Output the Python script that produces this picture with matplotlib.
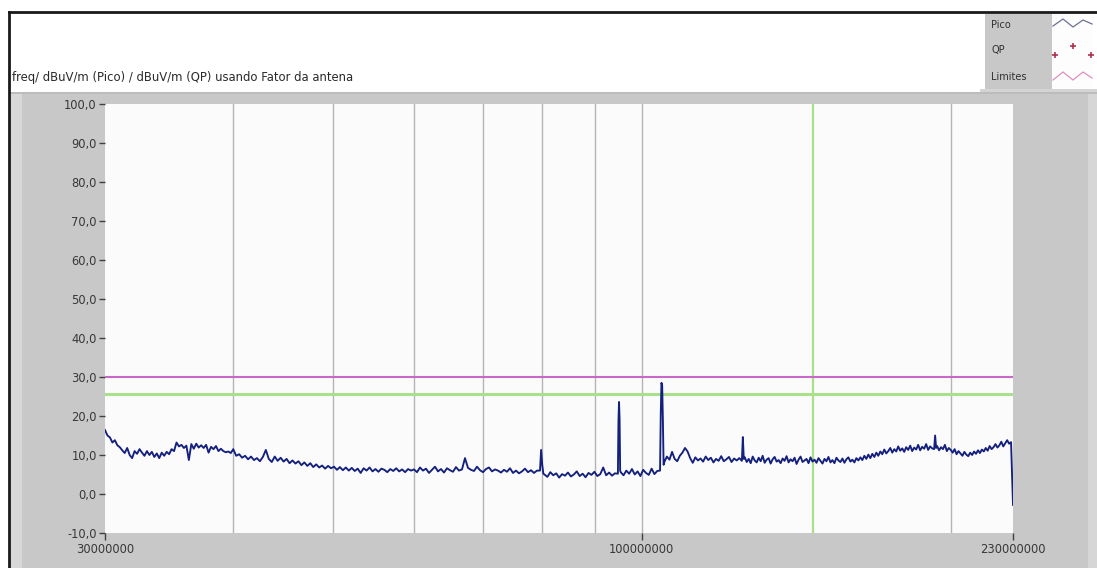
import numpy as np
import matplotlib
matplotlib.use("Agg")
import matplotlib.pyplot as plt
from matplotlib.patches import Rectangle
from matplotlib.lines import Line2D
from matplotlib.ticker import FixedLocator, FuncFormatter, NullFormatter

# ---- measured spectrum (dBuV/m, peak detector), one list per sweep band ----
# each band: start MHz, stop MHz, levels (points spread log-evenly over the band)
band_30_40 = [16.4, 15.0, 14.5, 13.2, 13.8, 12.5, 12.0, 11.2, 10.5, 11.8, 10.0, 9.2, 11.0,
              10.3, 11.5, 10.6, 9.8, 11.0, 10.0, 10.8, 9.5, 10.4, 9.2, 10.6, 9.8, 10.8, 10.2,
              11.5, 11.0, 13.2, 12.2, 12.6, 11.8, 12.4, 8.7, 12.8, 11.6, 12.9, 11.9, 12.5,
              11.8, 12.6, 10.6, 12.1, 11.5, 12.3, 11.0, 11.6, 11.0, 10.7, 10.9, 10.5]
band_40_60 = [11.5, 9.8, 10.2, 9.3, 9.8, 8.9, 9.6, 8.7, 9.2, 8.4, 9.5, 11.3, 9.0, 8.2, 9.6,
              8.5, 9.3, 8.3, 9.0, 7.9, 8.6, 7.8, 8.4, 7.4, 8.1, 7.2, 7.9, 6.9, 7.6, 6.8, 7.3,
              6.5, 7.2, 6.6, 7.0, 6.2, 6.9, 6.1, 6.8, 6.0, 6.7, 5.9, 6.5, 5.4, 6.6, 6.0, 6.8,
              5.8, 6.4, 5.7, 6.5, 6.2, 5.6, 6.4, 5.9, 6.6, 5.8, 6.3, 5.6, 6.4, 6.0]
band_60_80 = [6.3, 5.6, 6.8, 6.0, 6.5, 5.4, 6.2, 7.0, 5.8, 6.4, 5.5, 6.6, 6.1, 5.7, 6.9, 6.0,
              6.3, 9.2, 6.7, 6.2, 5.9, 7.0, 6.1, 5.6, 6.4, 6.8, 5.8, 6.3, 6.0, 5.5, 6.2, 5.7,
              6.6, 5.4, 6.0, 5.3, 5.8, 6.5, 5.6, 6.1, 5.4, 6.0]
peak_80 = [6.0, 11.3, 7.5, 5.2]
band_80_95 = [5.0, 4.4, 5.6, 4.8, 5.3, 4.2, 5.1, 4.7, 5.5, 4.5, 5.0, 5.8, 4.6, 5.2, 4.3,
              5.4, 4.9, 5.7, 4.6, 5.1, 6.8, 4.8, 5.5, 4.7, 5.3]
peak_95 = [5.2, 18.8, 23.6, 19.2, 6.0]
band_95_104 = [5.6, 4.8, 6.0, 5.2, 6.4, 5.0, 5.8, 4.6, 6.2, 5.4, 4.9, 6.5, 5.1, 5.9]
peak_105 = [6.0, 20.5, 28.5, 27.8, 19.0, 7.5]
band_105_125 = [8.2, 9.6, 8.8, 10.8, 9.0, 8.4, 9.8, 10.6, 11.8, 10.9, 9.2, 8.0, 9.4, 8.6,
                9.1, 8.3, 9.6, 8.7, 9.3, 8.1, 9.0, 8.5, 9.7, 8.4, 8.9, 9.5, 8.2, 9.1, 8.6, 9.2]
peak_125 = [8.5, 14.6, 9.0]
band_126_193 = [9.4, 8.2, 9.0, 7.9, 9.6, 8.6, 8.1, 9.3, 8.4, 9.8, 8.0, 8.8, 9.2, 7.8, 8.9,
                9.5, 8.3, 8.7, 7.9, 9.1, 8.5, 9.7, 8.1, 8.9, 8.4, 9.3, 7.7, 8.8, 9.6, 8.2,
                8.6, 9.0, 7.9, 9.4, 8.3, 8.8, 8.0, 9.2, 8.5, 7.8, 9.0, 8.4, 9.5, 8.1, 8.7,
                7.9, 9.3, 8.6, 8.2, 9.1, 8.0, 8.9, 9.4, 8.3, 8.8, 8.1, 9.2, 8.6, 9.4, 8.7,
                9.8, 9.0, 10.1, 9.2, 10.3, 9.5, 10.6, 9.8, 10.9, 10.2, 11.4, 10.4, 11.0,
                11.8, 10.6, 11.5, 10.9, 12.2, 11.1, 11.7, 10.8, 12.0, 11.3, 12.4, 11.0,
                11.9, 11.4, 12.6, 11.2, 12.1, 11.6, 12.8, 11.3, 12.2, 11.7]
peak_193 = [11.5, 15.0, 11.8]
band_194_230 = [12.3, 11.2, 12.0, 11.5, 12.6, 11.0, 11.8, 11.3, 10.6, 11.5, 10.2, 11.0,
                10.4, 9.8, 10.8, 10.1, 9.7, 10.6, 10.0, 10.9, 10.3, 11.2, 10.5, 11.4, 10.9,
                11.8, 11.1, 12.3, 11.5, 12.0, 12.8, 11.9, 12.5, 13.4, 12.2, 13.0, 13.8,
                12.9, 13.3, -2.8]

sweep_bands = [
    (30.0, 40.0, band_30_40),
    (40.0, 60.0, band_40_60),
    (60.0, 79.6, band_60_80),
    (79.6, 80.4, peak_80),
    (80.4, 94.8, band_80_95),
    (94.8, 95.4, peak_95),
    (95.4, 104.2, band_95_104),
    (104.2, 105.2, peak_105),
    (105.2, 125.2, band_105_125),
    (125.2, 126.0, peak_125),
    (126.0, 192.7, band_126_193),
    (192.7, 194.0, peak_193),
    (194.0, 230.0, band_194_230),
]

limit_line = 30.0        # "Limites"
margin_line = 25.6       # green reference level
cursor_freq_mhz = 147.0  # green cursor

x_tick_values = [30e6, 100e6, 230e6]
x_tick_labels = ["30000000", "100000000", "230000000"]
grid_freqs_mhz = [40, 50, 60, 70, 80, 90, 100, 200]
y_ticks = list(range(-10, 101, 10))

# ---- assemble trace ----
freqs, levels = [], []
for i, (f0, f1, vals) in enumerate(sweep_bands):
    last = i == len(sweep_bands) - 1
    f = np.geomspace(f0, f1, len(vals), endpoint=last) if len(vals) > 1 else np.array([f0])
    freqs.extend(f * 1e6)
    levels.extend(vals)
freqs = np.array(freqs)
levels = np.array(levels)

W, H = 1097, 568
fig = plt.figure(figsize=(W / 100, H / 100), dpi=100)
fig.patch.set_facecolor("white")

# background panel drawn in pixel coordinates
bg = fig.add_axes([0, 0, 1, 1], zorder=0)
bg.set_xlim(0, W)
bg.set_ylim(H, 0)
bg.axis("off")

def rect(x, y, w, h, color, **kw):
    bg.add_patch(Rectangle((x, y), w, h, facecolor=color, edgecolor="none", **kw))

rect(10, 92, W - 10, H - 92, "#c8c8c8")
rect(10, 92, 12, H - 92, "#d8d8d8")
rect(1088, 92, 9, H - 92, "#d6d6d6")
rect(10, 92, W - 10, 2, "#bcbcbc")
# outer frame
bg.add_line(Line2D([9, 9], [12, H], color="#1a1a1a", lw=2))
bg.add_line(Line2D([9, W], [12, 12], color="#1a1a1a", lw=2))

bg.text(12, 78, "freq/ dBuV/m (Pico) / dBuV/m (QP) usando Fator da antena",
        fontsize=8.4, color="#2a2a2a", va="center", ha="left", family="DejaVu Sans")

# plot legend block
rect(985, 14, 67, 75, "#c8c8c8")
rect(1052, 14, 41, 75, "#fdfdfd")
rect(980, 89, W - 980, 3, "#d4d4d4")
for label, yy in (("Pico", 25), ("QP", 50), ("Limites", 77)):
    bg.text(991, yy, label, fontsize=7, color="#303030", va="center", ha="left")
bg.add_line(Line2D([1053, 1063, 1073, 1083, 1092], [26, 19, 27, 20, 24],
                   color="#6a7290", lw=0.9))
bg.add_line(Line2D([1055, 1073, 1091], [55, 46, 55], color="none",
                   marker="+", markersize=5, markeredgecolor="#b03050", mew=1.2))
bg.add_line(Line2D([1053, 1063, 1073, 1083, 1092], [80, 72, 80, 72, 78],
                   color="#e090c0", lw=0.9))

# main graph
ax = fig.add_axes([105 / W, 1 - 533 / H, (1013 - 105) / W, (533 - 104) / H], zorder=1)
ax.set_facecolor("#fbfbfb")
ax.set_xscale("log")
ax.set_xlim(30e6, 230e6)
ax.set_ylim(-10, 100)
for s in ax.spines.values():
    s.set_visible(False)

for g in grid_freqs_mhz:
    ax.axvline(g * 1e6, color="#b4b4b4", lw=1.0, zorder=1)
ax.axvline(cursor_freq_mhz * 1e6, color="#a8e08c", lw=1.6, zorder=2)
ax.axhline(limit_line, color="#c868c8", lw=1.5, zorder=2)
ax.axhline(margin_line, color="#a8e08c", lw=2.2, zorder=2)

ax.plot(freqs, levels, color="#14207e", lw=1.35, zorder=3)

ax.xaxis.set_major_locator(FixedLocator(x_tick_values))
ax.xaxis.set_major_formatter(FuncFormatter(
    lambda v, p: x_tick_labels[x_tick_values.index(v)] if v in x_tick_values else ""))
ax.xaxis.set_minor_locator(FixedLocator([]))
ax.xaxis.set_minor_formatter(NullFormatter())
ax.set_yticks(y_ticks)
ax.set_yticklabels([f"{v:.1f}".replace(".", ",") for v in y_ticks])
ax.tick_params(axis="y", direction="out", length=4, width=1, color="#404040",
               labelsize=8.3, labelcolor="#383838", pad=2)
ax.tick_params(axis="x", direction="out", length=5, width=1, color="#404040",
               labelsize=8.3, labelcolor="#383838", pad=2)

fig.savefig("out.png", dpi=100, facecolor=fig.get_facecolor())
